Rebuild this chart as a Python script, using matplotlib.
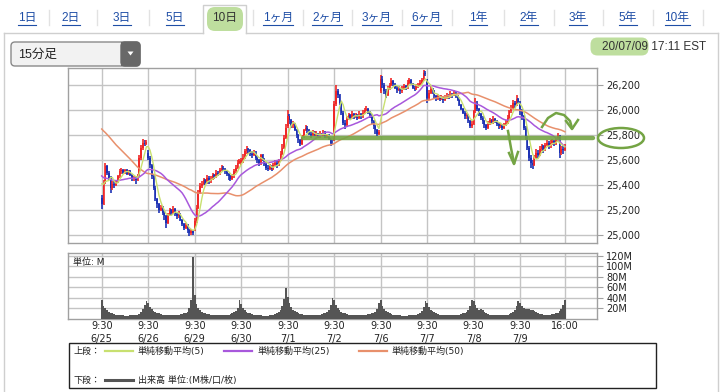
import numpy as np
import pandas as pd
import matplotlib
matplotlib.use('Agg')
import matplotlib.pyplot as plt
from matplotlib.patches import Rectangle, FancyBboxPatch, Ellipse, Polygon

plt.rcParams['font.family'] = ['DejaVu Sans', 'Noto Sans CJK JP']

# ---- data (15-minute bars, 26 per session) ----
days = ['6/25', '6/26', '6/29', '6/30', '7/1', '7/2', '7/6', '7/7', '7/8', '7/9']
day_open = [25300, 25660, 25050, 25580, 25870, 25760, 26150, 26250, 25890, 26060]

# closes of the 49 bars before the window (only used to seed the moving averages)
prev_close = [26180, 26210, 26240, 26260, 26230, 26250, 26270, 26240, 26220, 26200,
              26230, 26250, 26240, 26210, 26190, 26220, 26240, 26260, 26230, 26200,
              26190, 26210, 26230, 26200, 26180,
              25760, 25640, 25580, 25540, 25520, 25500, 25480, 25470, 25450, 25460,
              25440, 25450, 25430, 25440, 25420, 25430, 25450, 25460, 25440, 25420,
              25430, 25450, 25470, 25445]

c_0625 = [25250, 25420, 25550, 25500, 25460, 25380, 25410, 25400, 25430, 25470, 25510, 25520, 25500,
          25520, 25490, 25510, 25480, 25450, 25460, 25440, 25480, 25620, 25700, 25740, 25730, 25745]
h_0625 = [25320, 25440, 25580, 25560, 25510, 25470, 25430, 25430, 25440, 25480, 25530, 25540, 25530,
          25530, 25530, 25520, 25520, 25490, 25470, 25470, 25490, 25640, 25720, 25770, 25760, 25760]
l_0625 = [25210, 25240, 25410, 25480, 25440, 25340, 25360, 25380, 25390, 25420, 25460, 25490, 25490,
          25490, 25480, 25480, 25470, 25430, 25430, 25410, 25430, 25470, 25600, 25680, 25710, 25720]

c_0626 = [25620, 25560, 25470, 25380, 25290, 25250, 25200, 25220, 25180, 25150, 25100, 25160, 25200,
          25180, 25210, 25170, 25150, 25170, 25120, 25090, 25060, 25080, 25040, 25020, 25030, 25016]
h_0626 = [25680, 25630, 25570, 25480, 25390, 25300, 25260, 25240, 25230, 25190, 25160, 25180, 25220,
          25210, 25230, 25220, 25180, 25190, 25180, 25130, 25100, 25100, 25090, 25050, 25050, 25040]
l_0626 = [25600, 25540, 25450, 25360, 25270, 25220, 25180, 25190, 25160, 25120, 25060, 25090, 25150,
          25160, 25170, 25150, 25130, 25140, 25110, 25070, 25040, 25050, 25020, 24990, 25000, 25000]

c_0629 = [25110, 25220, 25340, 25390, 25410, 25440, 25420, 25460, 25430, 25450, 25480, 25470, 25500,
          25490, 25520, 25540, 25530, 25510, 25490, 25470, 25450, 25470, 25510, 25540, 25580, 25595]
h_0629 = [25140, 25240, 25360, 25420, 25430, 25460, 25450, 25480, 25470, 25470, 25500, 25490, 25520,
          25510, 25540, 25560, 25550, 25540, 25520, 25500, 25480, 25490, 25530, 25560, 25600, 25610]
l_0629 = [25030, 25100, 25210, 25330, 25380, 25400, 25400, 25410, 25410, 25420, 25440, 25450, 25460,
          25470, 25480, 25510, 25510, 25490, 25470, 25440, 25430, 25440, 25460, 25500, 25530, 25570]

c_0630 = [25600, 25620, 25670, 25690, 25680, 25650, 25640, 25660, 25620, 25600, 25570, 25640, 25610,
          25570, 25540, 25530, 25550, 25530, 25560, 25580, 25560, 25600, 25650, 25700, 25780, 25860]
h_0630 = [25620, 25650, 25690, 25710, 25700, 25690, 25670, 25680, 25670, 25630, 25610, 25650, 25650,
          25620, 25580, 25560, 25570, 25560, 25580, 25600, 25590, 25610, 25670, 25730, 25800, 25890]
l_0630 = [25560, 25580, 25610, 25650, 25660, 25630, 25620, 25630, 25600, 25580, 25550, 25560, 25590,
          25550, 25520, 25510, 25520, 25510, 25520, 25550, 25540, 25550, 25590, 25640, 25690, 25770]

c_0701 = [25950, 25920, 25880, 25890, 25840, 25800, 25760, 25730, 25790, 25840, 25860, 25840, 25810,
          25800, 25820, 25800, 25810, 25790, 25810, 25800, 25820, 25790, 25800, 25770, 25740, 25734]
h_0701 = [26000, 25970, 25930, 25910, 25900, 25850, 25810, 25770, 25800, 25850, 25880, 25870, 25850,
          25830, 25840, 25830, 25830, 25820, 25830, 25820, 25840, 25830, 25810, 25810, 25780, 25760]
l_0701 = [25860, 25890, 25860, 25860, 25830, 25780, 25740, 25710, 25720, 25780, 25830, 25820, 25800,
          25780, 25790, 25790, 25790, 25780, 25780, 25790, 25790, 25780, 25780, 25760, 25710, 25720]

c_0702 = [26050, 26150, 26120, 26060, 25980, 25900, 25880, 25930, 25960, 25940, 25970, 25950, 25960,
          25940, 25970, 25950, 25980, 26000, 26010, 25980, 25960, 25910, 25870, 25840, 25810, 25827]
h_0702 = [26070, 26200, 26170, 26130, 26070, 25990, 25920, 25950, 25980, 25970, 25990, 25980, 25980,
          25970, 25990, 25980, 26000, 26020, 26030, 26020, 25990, 25970, 25920, 25880, 25850, 25840]
l_0702 = [25750, 26030, 26100, 26040, 25960, 25880, 25850, 25870, 25920, 25920, 25930, 25930, 25940,
          25920, 25930, 25930, 25940, 25970, 25990, 25970, 25940, 25890, 25850, 25810, 25790, 25800]

c_0706 = [26250, 26200, 26150, 26120, 26170, 26200, 26230, 26210, 26180, 26160, 26170, 26150, 26170,
          26190, 26180, 26220, 26240, 26210, 26180, 26170, 26190, 26200, 26220, 26240, 26300, 26287]
h_0706 = [26280, 26270, 26220, 26170, 26190, 26220, 26260, 26240, 26220, 26190, 26190, 26180, 26190,
          26210, 26200, 26240, 26260, 26250, 26220, 26190, 26210, 26220, 26240, 26260, 26320, 26310]
l_0706 = [26140, 26180, 26130, 26100, 26110, 26160, 26190, 26190, 26170, 26140, 26150, 26130, 26140,
          26160, 26160, 26170, 26210, 26200, 26170, 26150, 26160, 26180, 26190, 26210, 26230, 26270]

c_0707 = [26100, 26140, 26170, 26150, 26110, 26090, 26110, 26090, 26100, 26080, 26100, 26120, 26110,
          26130, 26120, 26140, 26110, 26080, 26040, 26010, 25980, 25950, 25960, 25910, 25870, 25890]
h_0707 = [26250, 26160, 26190, 26180, 26160, 26120, 26130, 26120, 26120, 26110, 26120, 26140, 26130,
          26150, 26140, 26160, 26150, 26120, 26090, 26050, 26020, 25990, 25980, 25970, 25920, 25910]
l_0707 = [26060, 26080, 26130, 26130, 26090, 26070, 26080, 26070, 26080, 26060, 26070, 26090, 26090,
          26100, 26100, 26110, 26100, 26070, 26030, 26000, 25970, 25930, 25930, 25900, 25860, 25860]

c_0708 = [25990, 26060, 26010, 25970, 25940, 25910, 25880, 25860, 25890, 25920, 25900, 25930, 25910,
          25890, 25870, 25880, 25860, 25880, 25900, 25940, 25990, 26020, 26060, 26040, 26090, 26067]
h_0708 = [26000, 26100, 26070, 26020, 25980, 25950, 25920, 25890, 25910, 25940, 25930, 25950, 25940,
          25920, 25900, 25900, 25890, 25900, 25920, 25960, 26000, 26040, 26080, 26070, 26120, 26100]
l_0708 = [25880, 25980, 25990, 25950, 25920, 25890, 25860, 25840, 25850, 25880, 25890, 25890, 25900,
          25870, 25850, 25860, 25840, 25850, 25870, 25890, 25930, 25980, 26010, 26020, 26030, 26050]

c_0709 = [25990, 25950, 25860, 25780, 25700, 25620, 25580, 25560, 25620, 25660, 25640, 25690, 25710,
          25680, 25720, 25740, 25710, 25740, 25750, 25730, 25760, 25790, 25660, 25690, 25680, 25706]
h_0709 = [26070, 26010, 25960, 25870, 25790, 25710, 25640, 25600, 25640, 25690, 25680, 25710, 25730,
          25720, 25740, 25760, 25750, 25760, 25770, 25760, 25780, 25820, 25800, 25710, 25720, 25730]
l_0709 = [25960, 25920, 25840, 25760, 25680, 25590, 25540, 25530, 25550, 25610, 25620, 25630, 25670,
          25660, 25670, 25710, 25690, 25700, 25720, 25710, 25720, 25750, 25620, 25640, 25650, 25670]

# volume, millions
v_0625 = [36, 24, 20, 16, 13, 11, 10, 9, 8, 8, 7, 7, 7, 6, 6, 6, 7, 7, 7, 8, 8, 9, 12, 18, 26, 34]
v_0626 = [30, 22, 18, 14, 12, 11, 10, 9, 8, 8, 8, 7, 7, 7, 7, 8, 8, 8, 9, 9, 10, 11, 13, 20, 35, 118]
v_0629 = [45, 28, 20, 16, 13, 11, 10, 9, 9, 8, 8, 7, 7, 7, 7, 7, 7, 8, 8, 8, 9, 10, 12, 14, 20, 36]
v_0630 = [28, 20, 16, 13, 11, 10, 9, 8, 8, 7, 7, 7, 6, 6, 6, 6, 7, 7, 8, 9, 10, 12, 16, 24, 38, 59]
v_0701 = [42, 30, 22, 17, 14, 12, 10, 9, 9, 8, 8, 7, 7, 7, 7, 7, 7, 8, 8, 9, 10, 11, 13, 17, 26, 40]
v_0702 = [36, 26, 20, 16, 13, 11, 10, 9, 8, 8, 7, 7, 7, 7, 7, 7, 8, 8, 8, 9, 9, 10, 11, 12, 18, 30]
v_0706 = [36, 24, 18, 14, 12, 10, 9, 8, 8, 7, 7, 7, 6, 6, 6, 6, 7, 7, 7, 8, 8, 9, 11, 15, 22, 34]
v_0707 = [30, 22, 17, 14, 12, 10, 9, 8, 8, 7, 7, 7, 7, 7, 7, 7, 7, 8, 8, 9, 10, 11, 13, 17, 24, 36]
v_0708 = [34, 26, 20, 16, 18, 17, 12, 10, 9, 8, 8, 8, 7, 7, 7, 7, 7, 8, 8, 8, 9, 10, 12, 16, 24, 34]
v_0709 = [30, 24, 20, 19, 18, 18, 17, 16, 14, 12, 10, 9, 9, 8, 8, 8, 8, 8, 9, 9, 10, 11, 14, 18, 26, 36]

closes = [c_0625, c_0626, c_0629, c_0630, c_0701, c_0702, c_0706, c_0707, c_0708, c_0709]
highs = [h_0625, h_0626, h_0629, h_0630, h_0701, h_0702, h_0706, h_0707, h_0708, h_0709]
lows = [l_0625, l_0626, l_0629, l_0630, l_0701, l_0702, l_0706, l_0707, l_0708, l_0709]
vols = [v_0625, v_0626, v_0629, v_0630, v_0701, v_0702, v_0706, v_0707, v_0708, v_0709]

price_ticks = [25000, 25200, 25400, 25600, 25800, 26000, 26200]
vol_ticks = [20, 40, 60, 80, 100, 120]

tabs = ['1日', '2日', '3日', '5日', '10日', '1ヶ月', '2ヶ月', '3ヶ月', '6ヶ月', '1年', '2年', '3年', '5年', '10年']
tab_x = [27, 71, 122, 175, 225, 278, 327, 377, 426, 478, 529, 578, 628, 677]

# ---- build series ----
c = np.concatenate(closes).astype(float)
h = np.concatenate(highs).astype(float)
l = np.concatenate(lows).astype(float)
v = np.concatenate(vols).astype(float)
o = []
for d, cl in enumerate(closes):
    o.append(day_open[d])
    o.extend(cl[:-1])
o = np.array(o, dtype=float)
idx = np.arange(len(c))
n = len(prev_close)
full = pd.Series(prev_close + list(c))
ma5 = full.rolling(5).mean().values[n:]
ma25 = full.rolling(25).mean().values[n:]
ma50 = full.rolling(50).mean().values[n:]

day_pos = [d * 26 for d in range(len(days))] + [len(c) - 1]
day_lbl = ['9:30\n' + d for d in days] + ['16:00']

# ---- figure ----
W, H = 728, 392
fig = plt.figure(figsize=(W / 100, H / 100), dpi=100)
fig.patch.set_facecolor('white')

def fr(x0, y0, x1, y1):
    return [x0 / W, 1 - y1 / H, (x1 - x0) / W, (y1 - y0) / H]

grid_c = '#c4c4c4'
spine_c = '#a0a0a0'

ax = fig.add_axes(fr(68.3, 68.3, 596.7, 243.3))
ax2 = fig.add_axes(fr(68.3, 253.3, 596.7, 318.7))

up = c >= o
col = np.where(up, '#f02828', '#1e32b4')
ax.vlines(idx, l, h, colors=col, lw=1.2, zorder=3)
ax.bar(idx, c - o, bottom=o, width=0.9, color=col, linewidth=0, zorder=3)
ax.plot(idx, ma50, color='#e8906c', lw=1.1, zorder=4)
ax.plot(idx, ma25, color='#a858dc', lw=1.1, zorder=4)
ax.plot(idx, ma5, color='#c8e070', lw=1.0, zorder=4)

xl = (-18.7, 276.8)
for a in (ax, ax2):
    a.set_xlim(*xl)
    a.set_xticks(day_pos)
    a.grid(True, color=grid_c, lw=1)
    a.set_axisbelow(True)
    a.yaxis.tick_right()
    a.tick_params(axis='y', length=4, color=spine_c, labelsize=7, pad=3, labelcolor='#222')
    a.tick_params(axis='x', length=0)
    for s in a.spines.values():
        s.set_color(spine_c)
        s.set_linewidth(1)

ax.set_ylim(24934, 26334)
ax.set_yticks(price_ticks)
ax.set_yticklabels(['{:,}'.format(t) for t in price_ticks])
ax.set_xticklabels([])

ax2.bar(idx, v, width=1.0, color='#555555', linewidth=0, zorder=3)
ax2.set_ylim(0, 125)
ax2.set_yticks(vol_ticks)
ax2.set_yticklabels(['%dM' % t for t in vol_ticks])
ax2.set_xticklabels(day_lbl, fontsize=7, color='#222', linespacing=1.35)
ax2.tick_params(axis='x', pad=2)
ax2.text(0.008, 0.93, '単位: M', transform=ax2.transAxes, fontsize=6.5, va='top', ha='left', color='#222')

# ---- page chrome / legend / hand marks drawn in pixel space ----
ov = fig.add_axes([0, 0, 1, 1], zorder=10)
ov.set_xlim(0, W)
ov.set_ylim(H, 0)
ov.axis('off')
ov.patch.set_alpha(0)

frame_c = '#cfcfcf'
ov.plot([3.5, 3.5], [33, H], color=frame_c, lw=1)
ov.plot([718, 718], [33, H], color=frame_c, lw=1)
ov.plot([3.5, 203], [33, 33], color=frame_c, lw=1)
ov.plot([246, 718], [33, 33], color=frame_c, lw=1)
ov.plot([203, 203, 246, 246], [33, 5, 5, 33], color=frame_c, lw=1)
for sx in [49, 97, 149, 253, 303, 352, 402, 452, 504, 554, 603, 653, 703]:
    ov.plot([sx, sx], [10, 25], color='#e2e2e2', lw=1)

# green highlighter marks
hl = '#a9d47e'
ov.add_patch(FancyBboxPatch((209, 9), 32, 20, boxstyle='round,pad=2,rounding_size=8',
                            fc=hl, ec='none', alpha=0.75, zorder=1))
ov.add_patch(FancyBboxPatch((592, 39), 55, 15, boxstyle='round,pad=1.5,rounding_size=7',
                            fc=hl, ec='none', alpha=0.75, zorder=1))

tab_texts = []
for t, x in zip(tabs, tab_x):
    sel = t == '10日'
    tt = ov.text(x, 18, t, ha='center', va='center', fontsize=8.5, zorder=3,
                 family=['Liberation Sans', 'Noto Sans CJK JP'],
                 color='#333333' if sel else '#1f4ea6')
    if not sel:
        tab_texts.append(tt)

# dropdown
ov.add_patch(FancyBboxPatch((11, 42), 129, 24, boxstyle='round,pad=0,rounding_size=4',
                            fc='#f2f2f2', ec='#8a8a8a', lw=1, zorder=2))
ov.add_patch(FancyBboxPatch((121, 42), 19, 24, boxstyle='round,pad=0,rounding_size=4',
                            fc='#686868', ec='#686868', lw=1, zorder=3))
ov.add_patch(Rectangle((121, 42), 6, 24, fc='#686868', ec='none', zorder=3))
ov.add_patch(Polygon([[127.5, 51.5], [133.5, 51.5], [130.5, 55.5]], closed=True, fc='white', ec='none', zorder=4))
ov.text(18, 54.5, '15分足', ha='left', va='center', fontsize=9, color='#222', zorder=4,
        family=['Liberation Sans', 'Noto Sans CJK JP'])

ov.text(706, 46.5, '20/07/09 17:11 EST', ha='right', va='center', fontsize=8.5, color='#333',
        family='Liberation Sans', zorder=3)

# legend box
ov.add_patch(Rectangle((68.5, 343), 587, 45, fill=False, ec='#222', lw=1))
lg_fs = 6.5
ov.text(74, 351, '上段：', fontsize=lg_fs, va='center', ha='left', color='#222')
ov.plot([105, 133], [351, 351], color='#c8e070', lw=1.6)
ov.text(138, 351, '単純移動平均(5)', fontsize=lg_fs, va='center', ha='left', color='#222')
ov.plot([224, 252], [351, 351], color='#a858dc', lw=1.6)
ov.text(258, 351, '単純移動平均(25)', fontsize=lg_fs, va='center', ha='left', color='#222')
ov.plot([359, 387], [351, 351], color='#e8906c', lw=1.6)
ov.text(392, 351, '単純移動平均(50)', fontsize=lg_fs, va='center', ha='left', color='#222')
ov.text(74, 380, '下段：', fontsize=lg_fs, va='center', ha='left', color='#222')
ov.plot([105, 133], [380, 380], color='#555555', lw=2.2)
ov.text(138, 380, '出来高 単位:(M株/口/枚)', fontsize=lg_fs, va='center', ha='left', color='#222')

# hand-drawn support line and arrows
gr = '#74a444'
ov.plot([303, 593], [138, 138], color=gr, lw=3.2, alpha=0.9, solid_capstyle='round')
ov.add_patch(Ellipse((621, 138), 46, 20, fill=False, ec=gr, lw=1.8))
ov.plot([542, 548, 556, 564, 570, 572], [127, 118, 113, 115, 121, 128], color=gr, lw=1.8)
ov.plot([566, 572, 578], [121, 129, 120], color=gr, lw=1.8)
ov.plot([508, 511, 514], [131, 148, 163], color=gr, lw=1.8)
ov.plot([509, 514, 518], [153, 164, 152], color=gr, lw=1.8)

# underline link tabs
fig.canvas.draw()
r = fig.canvas.get_renderer()
inv = ov.transData.inverted()
for tt in tab_texts:
    bb = tt.get_window_extent(r)
    (x0, y0), (x1, y1) = inv.transform([[bb.x0, bb.y0], [bb.x1, bb.y1]])
    ov.plot([x0, x1], [24.5, 24.5], color='#1f4ea6', lw=0.8)

fig.savefig('out.png', dpi=100)
